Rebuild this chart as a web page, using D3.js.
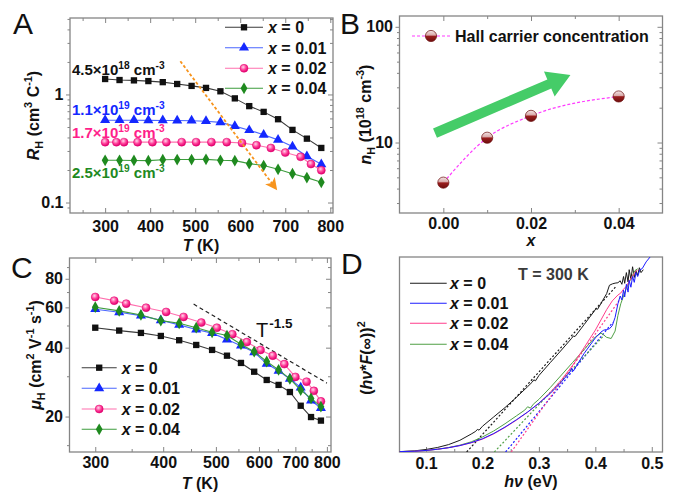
<!DOCTYPE html>
<html><head><meta charset="utf-8">
<script src="https://cdn.jsdelivr.net/npm/d3@7"></script>
<style>
body{margin:0;background:#fff}
svg text{font-family:"Liberation Sans",Arial,Helvetica,sans-serif}
</style>
</head><body>
<svg id="c" width="675" height="494"></svg>
<script>
// ---------------- DATA ----------------
const seriesLabels = ["0", "0.01", "0.02", "0.04"];
// Panel A / C temperatures
const tempMain = [300,332,364,396,428,460,492,524,556,588,620,652,684,716,748,780];
const tempPink = [300,325,342,372,405,436,470,502,536,570,604,636,668,700,734,757,780];
// Panel A: Hall coefficient R_H (cm^3/C)
const rhX0   = [1.39,1.36,1.35,1.33,1.30,1.25,1.20,1.15,1.07,0.92,0.78,0.69,0.59,0.47,0.39,0.32];
const rhX001 = [0.578,0.578,0.578,0.576,0.575,0.574,0.572,0.566,0.552,0.509,0.467,0.424,0.38,0.33,0.268,0.226];
const rhX002 = [0.362,0.362,0.362,0.362,0.362,0.362,0.362,0.362,0.362,0.362,0.356,0.339,0.32,0.29,0.265,0.227,0.199];
const rhX004 = [0.246,0.246,0.245,0.244,0.249,0.25,0.25,0.251,0.246,0.244,0.229,0.22,0.203,0.185,0.17,0.154];
const rhNotes = ["4.5×10|18| cm|-3", "1.1×10|19| cm|-3", "1.7×10|19| cm|-3", "2.5×10|19| cm|-3"];
// Panel B: carrier concentration
const dopX = [0, 0.01, 0.02, 0.04];
const nH   = [4.5, 11, 17, 25];
// Panel C: mobility (cm^2/Vs)
const muX0   = [48.9,47.5,46.4,45.0,43.1,41.1,39.1,36.9,34.3,31.4,28.9,27.5,25.6,22.3,19.9,19.2];
const muX001 = [58.9,57.1,55.2,52.7,50.3,48.0,46.3,43.4,40.8,38.2,34.0,31.7,29.2,26.8,23.5,21.8];
const muX002 = [66.6,64.2,62.3,59.8,57.3,54.5,51.5,48.9,45.8,42.3,39.1,36.9,33.9,29.8,28.4,25.9,23.3];
const muX004 = [60.1,57.9,55.6,52.5,51.1,48.9,46.7,45.2,41.4,38.4,34.8,32.0,29.2,26.1,24.0,22.1];
const powerLaw = [[455, 62], [800, 28]];
// Panel D: (hv*F)^2 vs hv (arb. units, 0..1)
const absX0 = [[0.053,0.002],[0.08,0.006],[0.10,0.013],[0.12,0.023],[0.14,0.038],[0.16,0.06],[0.18,0.092],[0.188,0.106],[0.191,0.116],[0.194,0.112],[0.20,0.132],[0.22,0.18],[0.24,0.228],[0.26,0.28],[0.28,0.335],[0.288,0.358],[0.291,0.37],[0.294,0.365],[0.30,0.392],[0.32,0.458],[0.34,0.523],[0.358,0.583],[0.361,0.595],[0.364,0.592],[0.38,0.653],[0.398,0.722],[0.401,0.735],[0.404,0.732],[0.41,0.762],[0.42,0.812],[0.425,0.855],[0.43,0.862],[0.435,0.866],[0.44,0.868],[0.444,0.878],[0.447,0.86],[0.45,0.9],[0.452,0.865],[0.455,0.92],[0.458,0.872],[0.46,0.935],[0.463,0.885],[0.466,0.95],[0.469,0.895],[0.472,0.93],[0.475,0.905],[0.478,0.945],[0.481,0.92],[0.485,0.935]];
const absX001 = [[0.053,0.002],[0.08,0.004],[0.10,0.008],[0.12,0.014],[0.14,0.022],[0.16,0.033],[0.18,0.048],[0.20,0.068],[0.22,0.095],[0.24,0.128],[0.26,0.165],[0.28,0.205],[0.30,0.25],[0.32,0.3],[0.34,0.36],[0.355,0.41],[0.358,0.43],[0.361,0.415],[0.38,0.505],[0.40,0.585],[0.41,0.615],[0.415,0.625],[0.42,0.628],[0.425,0.632],[0.43,0.648],[0.435,0.69],[0.44,0.76],[0.444,0.8],[0.447,0.78],[0.45,0.83],[0.452,0.795],[0.455,0.86],[0.458,0.82],[0.46,0.88],[0.463,0.845],[0.466,0.9],[0.469,0.87],[0.472,0.92],[0.475,0.9],[0.479,0.935],[0.483,0.94],[0.49,0.975],[0.497,1.0]];
const absX002 = [[0.053,0.002],[0.08,0.004],[0.10,0.008],[0.12,0.014],[0.14,0.022],[0.16,0.033],[0.18,0.047],[0.20,0.066],[0.22,0.093],[0.24,0.126],[0.26,0.163],[0.28,0.204],[0.30,0.25],[0.32,0.305],[0.34,0.37],[0.36,0.445],[0.38,0.535],[0.40,0.625],[0.42,0.73],[0.43,0.775],[0.44,0.805],[0.445,0.815],[0.45,0.835],[0.455,0.85],[0.46,0.875],[0.465,0.9],[0.47,0.92],[0.475,0.935]];
const absX004 = [[0.053,0.002],[0.08,0.004],[0.10,0.008],[0.12,0.014],[0.14,0.023],[0.16,0.035],[0.18,0.052],[0.20,0.077],[0.22,0.108],[0.24,0.145],[0.26,0.185],[0.275,0.215],[0.28,0.232],[0.285,0.225],[0.29,0.245],[0.30,0.27],[0.32,0.33],[0.34,0.395],[0.36,0.46],[0.38,0.525],[0.40,0.59],[0.41,0.61],[0.415,0.6],[0.42,0.588],[0.428,0.582],[0.435,0.62],[0.44,0.7],[0.445,0.76],[0.45,0.8],[0.455,0.84],[0.46,0.87],[0.465,0.9],[0.47,0.93],[0.475,0.94]];
const tangents = [
  [[0.172,0],[0.437,0.85]],
  [[0.241,0],[0.431,0.665]],
  [[0.251,0],[0.443,0.78]],
  [[0.221,0],[0.416,0.6]]
];

// ---------------- STYLE ----------------
const markerCol = ["#111111", "#1428ff", "#ff2a8e", "#1f8a1f"];
const lineCol   = ["#3a3a3a", "#4a66ff", "#ff6fae", "#3c9c3c"];
const dCol      = ["#1a1a1a", "#1c1cff", "#ff3d8b", "#4f9f45"];
const FRAME = "#858585";

const svg = d3.select("#c");
svg.append("rect").attr("width",675).attr("height",494).attr("fill","#fff");
const defs = svg.append("defs");
const rg = defs.append("radialGradient").attr("id","pinkBall").attr("cx","40%").attr("cy","35%").attr("r","65%");
rg.append("stop").attr("offset","0%").attr("stop-color","#ffd6ea");
rg.append("stop").attr("offset","55%").attr("stop-color","#ff3d98");
rg.append("stop").attr("offset","100%").attr("stop-color","#e0006e");
const lg = defs.append("linearGradient").attr("id","redBall").attr("x1",0).attr("y1",0).attr("x2",0).attr("y2",1);
lg.append("stop").attr("offset","0%").attr("stop-color","#f4e6e6");
lg.append("stop").attr("offset","42%").attr("stop-color","#d9aaaa");
lg.append("stop").attr("offset","52%").attr("stop-color","#9a1d1d");
lg.append("stop").attr("offset","100%").attr("stop-color","#6e0e0e");

function rich(sel, parts, base) {
  let shift = 0;
  parts.forEach(([t, k]) => {
    const ts = sel.append("tspan").text(t);
    let target = 0, fs = base;
    if (k === "sup") { target = -base * 0.42; fs = base * 0.68; }
    if (k === "sub") { target = base * 0.28; fs = base * 0.68; }
    if (k === "i") ts.attr("font-style", "italic");
    ts.attr("dy", target - shift).attr("font-size", fs);
    shift = target;
  });
}

function axes(x, y, o) {
  const g = svg.append("g");
  const [xl, xr] = x.range(), [yb, yt] = y.range();
  g.append("rect").attr("x", xl).attr("y", yt).attr("width", xr - xl).attr("height", yb - yt)
    .attr("fill", "none").attr("stroke", FRAME).attr("stroke-width", 1.3);
  const add = (axis, tr) => g.append("g").attr("transform", tr).call(axis);
  add(d3.axisBottom(x).tickValues(o.xMajor).tickSize(-5).tickPadding(o.xPad).tickFormat(o.xFmt), `translate(0,${yb})`);
  add(d3.axisBottom(x).tickValues(o.xMinor).tickSize(-3).tickFormat(""), `translate(0,${yb})`);
  if (o.mirror) {
    add(d3.axisTop(x).tickValues(o.xMajor).tickSize(-5).tickFormat(""), `translate(0,${yt})`);
    add(d3.axisTop(x).tickValues(o.xMinor).tickSize(-3).tickFormat(""), `translate(0,${yt})`);
  }
  if (o.yMajor) {
    add(d3.axisLeft(y).tickValues(o.yMajor).tickSize(4).tickPadding(2.5).tickFormat(o.yFmt), `translate(${xl},0)`);
    add(d3.axisLeft(y).tickValues(o.yMinor).tickSize(2.5).tickFormat(""), `translate(${xl},0)`);
    add(d3.axisRight(y).tickValues(o.yMajor).tickSize(-5).tickFormat(""), `translate(${xr},0)`);
    add(d3.axisRight(y).tickValues(o.yMinor).tickSize(-3).tickFormat(""), `translate(${xr},0)`);
  }
  g.selectAll(".domain").remove();
  g.selectAll(".tick line").attr("stroke", FRAME).attr("stroke-width", 1);
  g.selectAll(".tick text").attr("font-size", 16).attr("font-weight", "bold").attr("fill", "#111")
    .attr("font-family", '"Liberation Sans",Arial,sans-serif');
  g.attr("font-family", null).attr("font-size", null);
  return g;
}

function title(tx, ty, rot, parts, size) {
  const t = svg.append("text").attr("transform", `translate(${tx},${ty})` + (rot ? " rotate(-90)" : ""))
    .attr("text-anchor", "middle").attr("font-weight", "bold").attr("font-size", size || 16).attr("fill", "#111");
  rich(t, parts, size || 16);
  return t;
}

function letter(ch, x, y) {
  svg.append("text").attr("x", x).attr("y", y).attr("font-size", 30).attr("fill", "#111").text(ch);
}

const sym = [d3.symbolSquare, d3.symbolTriangle, d3.symbolCircle, d3.symbolDiamond];
const symSize = [40, 44, 56, 40];
function marker(g, i, px, py) {
  if (i === 2) {
    g.append("circle").attr("cx", px).attr("cy", py).attr("r", 4)
      .attr("fill", "url(#pinkBall)").attr("stroke", "#e0006e").attr("stroke-width", 0.5);
  } else {
    g.append("path").attr("d", d3.symbol().type(sym[i]).size(symSize[i])())
      .attr("transform", `translate(${px},${py})`).attr("fill", markerCol[i]);
  }
}

function scatterLines(x, y, temps, vals) {
  const g = svg.append("g");
  vals.forEach((v, i) => {
    const T = temps[i];
    const pts = v.map((d, j) => [x(T[j]), y(d)]);
    g.append("path").attr("d", d3.line()(pts)).attr("fill", "none").attr("stroke", lineCol[i]).attr("stroke-width", 1.1);
    pts.forEach(p => marker(g, i, p[0], p[1]));
  });
}

function legendRows(x0, x1, tx, ys, withMarkers, cols) {
  const g = svg.append("g");
  seriesLabels.forEach((lab, i) => {
    g.append("line").attr("x1", x0).attr("x2", x1).attr("y1", ys[i]).attr("y2", ys[i])
      .attr("stroke", cols[i]).attr("stroke-width", 1.1);
    if (withMarkers) marker(g, i, (x0 + x1) / 2, ys[i]);
    const t = g.append("text").attr("x", tx).attr("y", ys[i] + 5.8).attr("font-size", 16).attr("font-weight", "bold").attr("fill", "#111");
    rich(t, [["x", "i"], [" = " + lab, ""]], 16);
  });
}

const tempsByIdx = [tempMain, tempMain, tempPink, tempMain];

// ---------------- PANEL A ----------------
const xA = d3.scaleLinear().domain([222, 806]).range([70, 333]);
const yA = d3.scaleLog().domain([0.08, 5.1]).range([213, 18]);
axes(xA, yA, {
  xMajor: [300,400,500,600,700,800], xMinor: [250,350,450,550,650,750], xPad: 7.5, xFmt: d3.format("d"),
  yMajor: [0.1, 1], yMinor: [0.09,0.2,0.3,0.4,0.5,0.6,0.7,0.8,0.9,2,3,4,5], yFmt: d => String(d), mirror: true
});
scatterLines(xA, yA, tempsByIdx, [rhX0, rhX001, rhX002, rhX004]);
// orange arrow
(function(){
  const tail = [467, 2.03], tip = [682, 0.13];
  const p0 = [xA(tail[0]), yA(tail[1])], p1 = [xA(tip[0]), yA(tip[1])];
  const ang = Math.atan2(p1[1]-p0[1], p1[0]-p0[0]);
  const L = Math.hypot(p1[0]-p0[0], p1[1]-p0[1]);
  const g = svg.append("g").attr("transform", `translate(${p0[0]},${p0[1]}) rotate(${ang*180/Math.PI})`);
  g.append("line").attr("x1", 0).attr("x2", L - 8).attr("y1", 0).attr("y2", 0)
    .attr("stroke", "#f7941d").attr("stroke-width", 1.8).attr("stroke-dasharray", "3,2.2");
  g.append("polygon").attr("points", `${L},0 ${L-12},-6 ${L-9},0 ${L-12},6`).attr("fill", "#f7941d");
})();
// carrier concentration notes
const noteCols = ["#111111", "#1428ff", "#ff1f8a", "#1f8a1f"];
const noteY = [75, 115, 138, 178];
rhNotes.forEach((s, i) => {
  const p = s.split("|");
  const t = svg.append("text").attr("x", 72).attr("y", noteY[i]).attr("font-size", 15).attr("font-weight", "bold").attr("fill", noteCols[i]);
  rich(t, [[p[0], ""], [p[1], "sup"], [p[2], ""], [p[3], "sup"]], 15);
});
legendRows(225, 263, 268, [27.3, 47.7, 68.3, 88.3], true, lineCol);
title(39, 115.5, true, [["R","i"],["H","sub"],[" (cm",""],["3","sup"],[" C",""],["-1","sup"],[")",""]]);
title(201, 251, false, [["T","i"],[" (K)",""]]);
letter("A", 13, 33.5);

// ---------------- PANEL B ----------------
const xB = d3.scaleLinear().domain([-0.01, 0.05]).range([399.5, 662.5]);
const yB = d3.scaleLog().domain([2.46, 124]).range([213, 16]);
axes(xB, yB, {
  xMajor: [0, 0.02, 0.04], xMinor: [0.01, 0.03], xPad: 4.6, xFmt: d3.format(".2f"),
  yMajor: [10, 100], yMinor: [3,4,5,6,7,8,9,20,30,40,50,60,70,80,90], yFmt: d => String(d), mirror: true
});
// green arrow
(function(){
  const tail = [-0.0019, 12.05], tip = [0.029, 38.4];
  const p0 = [xB(tail[0]), yB(tail[1])], p1 = [xB(tip[0]), yB(tip[1])];
  const ang = Math.atan2(p1[1]-p0[1], p1[0]-p0[0]);
  const L = Math.hypot(p1[0]-p0[0], p1[1]-p0[1]);
  const sw = 10, hw = 27, hl = 23;
  svg.append("polygon").attr("transform", `translate(${p0[0]},${p0[1]}) rotate(${ang*180/Math.PI})`)
    .attr("points", [[0,-sw/2],[L-hl,-sw/2],[L-hl,-hw/2],[L,0],[L-hl,hw/2],[L-hl,sw/2],[0,sw/2]].map(d=>d.join(",")).join(" "))
    .attr("fill", "#45cc68");
})();
const bPts = dopX.map((d, i) => [xB(d), yB(nH[i])]);
svg.append("path").attr("d", d3.line().curve(d3.curveMonotoneX)(bPts)).attr("fill", "none")
  .attr("stroke", "#ff3cff").attr("stroke-width", 1.2).attr("stroke-dasharray", "3,2");
function redBall(px, py) {
  svg.append("circle").attr("cx", px).attr("cy", py).attr("r", 5.6).attr("fill", "url(#redBall)")
    .attr("stroke", "#6a0c0c").attr("stroke-width", 0.7);
}
bPts.forEach(p => redBall(p[0], p[1]));
svg.append("line").attr("x1", 412).attr("x2", 450).attr("y1", 36).attr("y2", 36)
  .attr("stroke", "#ff3cff").attr("stroke-width", 1.2).attr("stroke-dasharray", "3,2");
redBall(431, 36);
svg.append("text").attr("x", 455).attr("y", 41.7).attr("font-size", 16).attr("font-weight", "bold").attr("fill", "#111")
  .text("Hall carrier concentration");
title(371, 114.5, true, [["n","i"],["H","sub"],[" (10",""],["18","sup"],[" cm",""],["-3","sup"],[")",""]]);
title(531, 246, false, [["x","i"]]);
letter("B", 340, 33.5);

// ---------------- PANEL C ----------------
const xC = d3.scaleLog().domain([269, 814]).range([69.5, 331]);
const yC = d3.scaleLog().domain([14, 98.6]).range([452, 258]);
axes(xC, yC, {
  xMajor: [300,400,500,600,700,800], xMinor: [350,450,550,650,750], xPad: 4.6, xFmt: d3.format("d"),
  yMajor: [20,40,60,80], yMinor: [15,30,50,70,90], yFmt: d => String(d), mirror: true
});
svg.append("path").attr("d", d3.line()(powerLaw.map(d => [xC(d[0]), yC(d[1])])))
  .attr("stroke", "#222").attr("stroke-width", 1.2).attr("stroke-dasharray", "4,3").attr("fill", "none");
scatterLines(xC, yC, tempsByIdx, [muX0, muX001, muX002, muX004]);
(function(){
  const t = svg.append("text").attr("x", 256).attr("y", 336.5).attr("fill", "#111");
  t.append("tspan").attr("font-size", 20).text("T");
  t.append("tspan").attr("font-size", 13.5).attr("font-weight", "bold").attr("dy", -9).attr("dx", 1).text("-1.5");
})();
legendRows(81.7, 116.7, 121.7, [367.7, 388.3, 409, 429.3], true, lineCol);
title(41, 355, true, [["μ","i"],["H","sub"],[" (cm",""],["2","sup"],[" V",""],["-1","sup"],[" s",""],["-1","sup"],[")",""]]);
title(200, 489, false, [["T","i"],[" (K)",""]]);
letter("C", 11, 277.5);

// ---------------- PANEL D ----------------
const xD = d3.scaleLinear().domain([0.053, 0.519]).range([399.5, 662.5]);
const yD = d3.scaleLinear().domain([0, 1]).range([452, 257]);
const clip = defs.append("clipPath").attr("id", "clipD");
clip.append("rect").attr("x", 399.5).attr("y", 257).attr("width", 263).attr("height", 195);
axes(xD, yD, {
  xMajor: [0.1,0.2,0.3,0.4,0.5], xMinor: [0.15,0.25,0.35,0.45], xPad: 6, xFmt: d3.format(".1f"),
  yMajor: null, mirror: false
});
const gD = svg.append("g").attr("clip-path", "url(#clipD)");
const lineD = d3.line().x(d => xD(d[0])).y(d => yD(d[1]));
tangents.forEach((tg, i) => {
  gD.append("path").attr("d", lineD(tg)).attr("fill", "none").attr("stroke", dCol[i])
    .attr("stroke-width", 1.2).attr("stroke-dasharray", "2,2");
});
[absX0, absX004, absX002, absX001].forEach((arr, k) => {
  const i = [0, 3, 2, 1][k];
  gD.append("path").attr("d", lineD(arr)).attr("fill", "none").attr("stroke", dCol[i]).attr("stroke-width", 1);
});
svg.append("text").attr("x", 518).attr("y", 280).attr("font-size", 16).attr("font-weight", "bold").attr("fill", "#3a3a3a").text("T = 300 K");
legendRows(410, 446.7, 450, [283.3, 303.3, 323.3, 344.3], false, dCol);
title(372, 358, true, [["(",""],["hν","i"],["*",""],["F","i"],["(∞))",""],["2","sup"]]);
title(531, 487, false, [["hν","i"],[" (eV)",""]]);
letter("D", 341, 273.5);
</script>
</body></html>
